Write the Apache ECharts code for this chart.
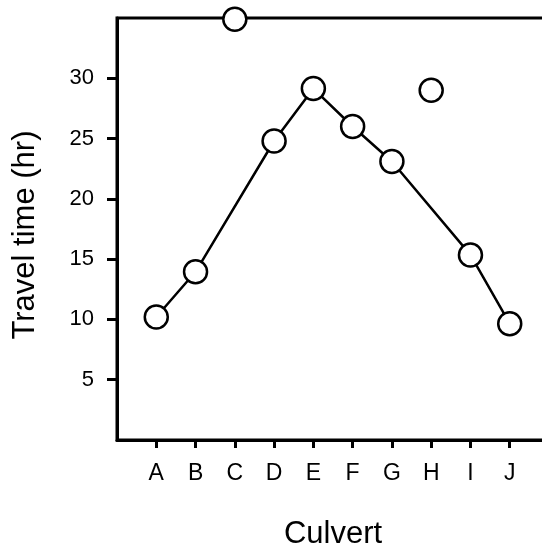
<!DOCTYPE html>
<html>
<head>
<meta charset="utf-8">
<script src="https://cdn.jsdelivr.net/npm/echarts@6/dist/echarts.min.js"></script>
<style>
html,body{margin:0;padding:0;background:#fff;}
#chart{width:542px;height:550px;}
</style>
</head>
<body>
<div id="chart"></div>
<script>
var categories = ['A','B','C','D','E','F','G','H','I','J'];
var lineValues = [10.2, 13.95, null, 24.8, 29.15, 26.0, 23.1, null, 15.35, 9.65];
var outlierValues = [null, null, 34.9, null, null, null, null, 29.0, null, null];
var yTicks = [5, 10, 15, 20, 25, 30];

var xTicks = categories.map(function(c, i){ return i + 1; });
function toPairs(arr){
  var out = [];
  arr.forEach(function(v, i){ if (v !== null) out.push([i + 1, v]); });
  return out;
}
var lineData = [];
lineValues.forEach(function(v, i){ lineData.push([i + 1, v]); });

var font = 'Liberation Sans, Arial, sans-serif';
var chart = echarts.init(document.getElementById('chart'));
chart.setOption({
  animation: false,
  backgroundColor: '#fff',
  grid: {
    left: 117, top: 18, bottom: 110, width: 432,
    containLabel: false, outerBoundsMode: 'none',
    show: true, borderColor: '#000', borderWidth: 3, backgroundColor: 'transparent'
  },
  xAxis: {
    type: 'value', min: 0, max: 11,
    name: 'Culvert', nameLocation: 'middle', nameGap: 79,
    nameTextStyle: { fontSize: 31, fontFamily: font, color: '#000' },
    splitLine: { show: false },
    axisLine: { lineStyle: { color: '#000', width: 3 } },
    axisTick: { show: true, customValues: xTicks, length: 8, lineStyle: { color: '#000', width: 3 } },
    axisLabel: {
      customValues: xTicks, margin: 22, fontSize: 23, fontFamily: font, color: '#000',
      formatter: function(v){ return categories[Math.round(v) - 1] || ''; }
    }
  },
  yAxis: {
    type: 'value', min: 0, max: 35,
    name: 'Travel time (hr)', nameLocation: 'middle', nameGap: 76,
    nameTextStyle: { fontSize: 31, fontFamily: font, color: '#000', padding: [0, 12, 0, 0] },
    splitLine: { show: false },
    axisLine: { show: true, lineStyle: { color: '#000', width: 3 } },
    axisTick: { show: true, customValues: yTicks, length: 10, lineStyle: { color: '#000', width: 3 } },
    axisLabel: { customValues: yTicks, margin: 23, fontSize: 22, fontFamily: font, color: '#000' }
  },
  series: [
    {
      type: 'line', data: lineData, connectNulls: true,
      symbol: 'circle', symbolSize: 23, showAllSymbol: true,
      lineStyle: { color: '#000', width: 2.5 },
      itemStyle: { color: '#fff', borderColor: '#000', borderWidth: 2.5 },
      z: 3
    },
    {
      type: 'scatter', data: toPairs(outlierValues), clip: false,
      symbol: 'circle', symbolSize: 23,
      itemStyle: { color: '#fff', borderColor: '#000', borderWidth: 2.5, opacity: 1 },
      z: 4
    }
  ]
});
</script>
</body>
</html>
